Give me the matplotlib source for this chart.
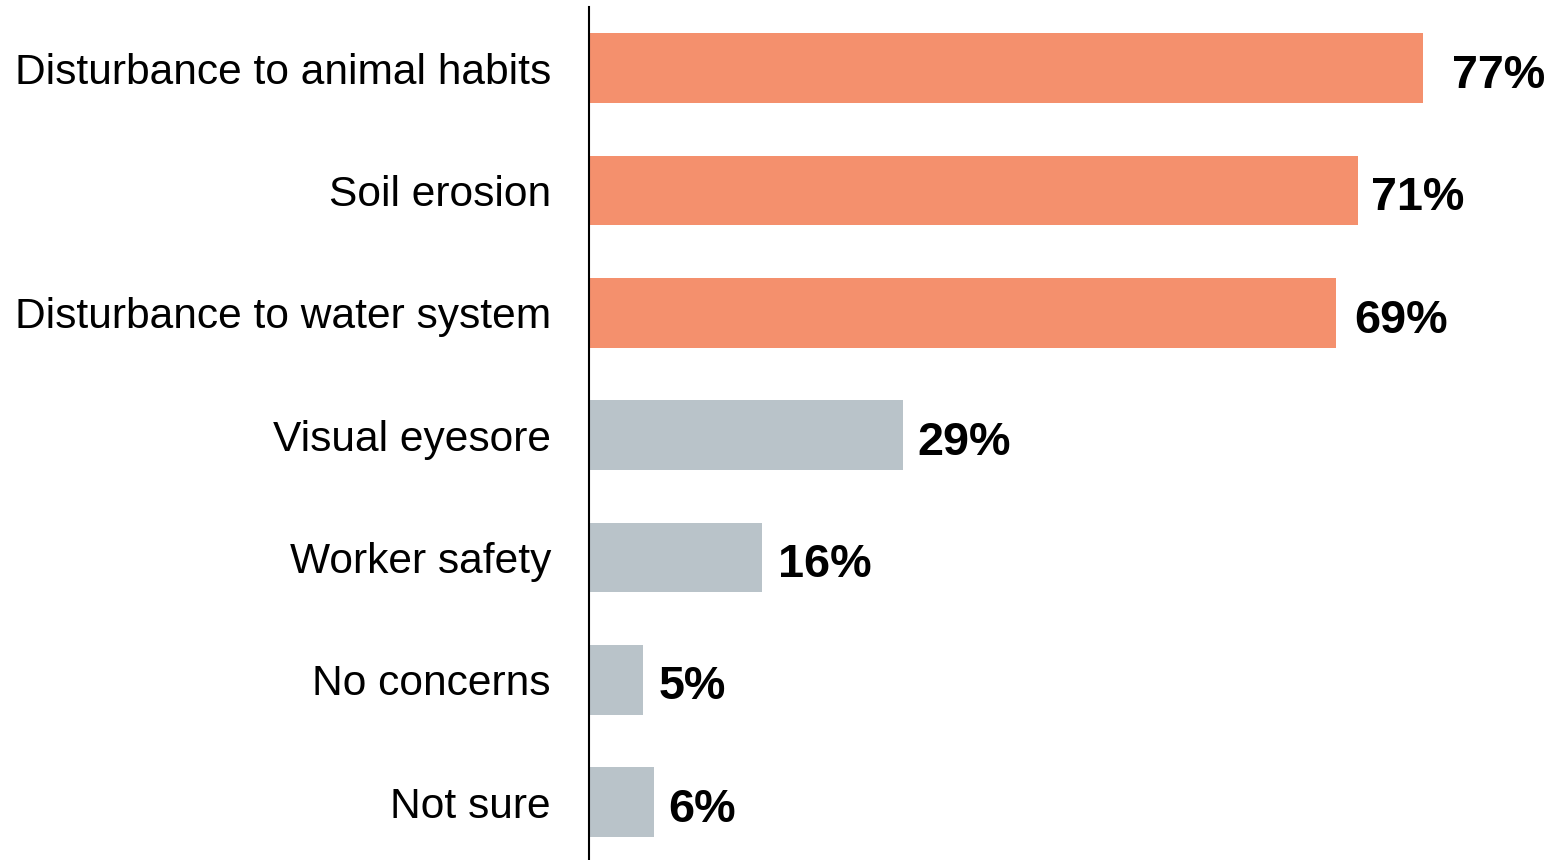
import matplotlib.pyplot as plt

plt.rcParams['font.family'] = ['Liberation Sans', 'DejaVu Sans']

concerns = [
    "Disturbance to animal habits",
    "Soil erosion",
    "Disturbance to water system",
    "Visual eyesore",
    "Worker safety",
    "No concerns",
    "Not sure",
]
shares = [77, 71, 69, 29, 16, 5, 6]
highlight = [True, True, True, False, False, False, False]

ORANGE = "#F4906D"
GREY = "#B9C3C9"

fig = plt.figure(figsize=(15.52, 8.6), dpi=100)
ax = fig.add_axes([589 / 1552, 0.0, 1 - 589 / 1552, 1 - 7 / 860])

ypos = list(range(len(concerns)))
colors = [ORANGE if h else GREY for h in highlight]
ax.barh(ypos, shares, height=0.57, color=colors, zorder=2)

# label gap (pixels) to the right of each bar end
pads = [29, 13, 18, 14, 16, 15, 14]
for y, v, p in zip(ypos, shares, pads):
    ax.annotate(f"{v}%", (v, y), xytext=(p * 72 / 100, -2), textcoords="offset points",
                ha="left", va="center_baseline", fontsize=33.7, fontweight="bold",
                color="black")

ax.set_xlim(0, 963 / 10.83)
ax.set_ylim(6.474, -0.5)
ax.set_yticks(ypos)
ax.set_yticklabels(concerns, fontsize=30.6, va="center_baseline")
ax.tick_params(axis="y", length=0, pad=38 * 72 / 100)
ax.set_xticks([])

for side in ["top", "right", "bottom"]:
    ax.spines[side].set_visible(False)
ax.spines["left"].set_linewidth(1.5)
ax.spines["left"].set_color("black")

fig.savefig("out.png", dpi=100)
